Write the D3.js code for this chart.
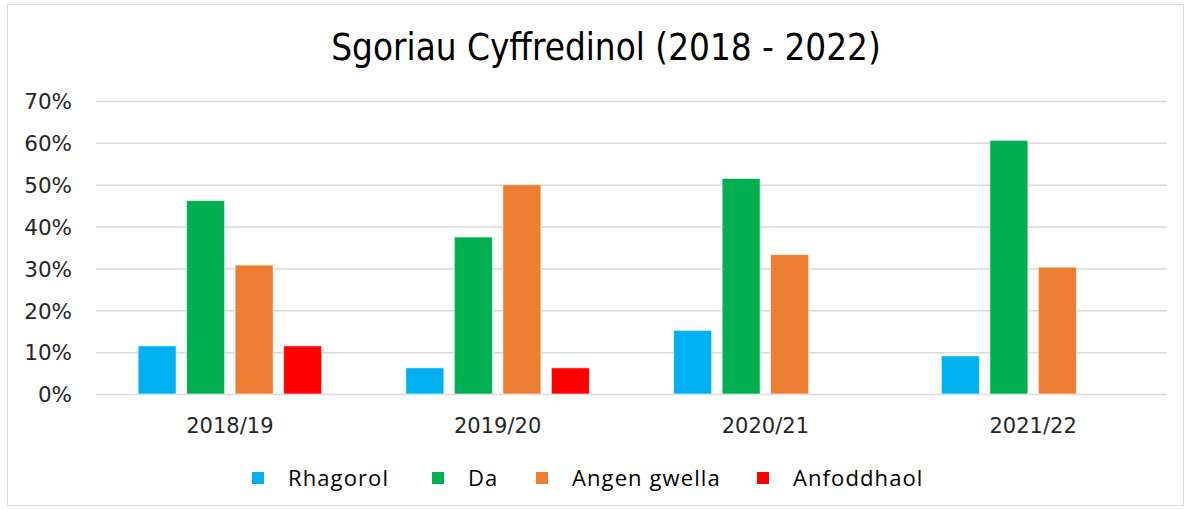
<!DOCTYPE html>
<html>
<head>
<meta charset="utf-8">
<script src="https://cdn.jsdelivr.net/npm/d3@7"></script>
<style>
  body { margin: 0; background: #fff; }
  svg { display: block; }
</style>
</head>
<body>
<svg id="chart" width="1191" height="510"></svg>
<script>
// data
var years = ["2018/19", "2019/20", "2020/21", "2021/22"];
var series = ["Rhagorol", "Da", "Angen gwella", "Anfoddhaol"];
var rhagorol = [11.5, 6.25, 15.2, 9.1];
var da = [46.2, 37.5, 51.5, 60.6];
var angenGwella = [30.8, 50, 33.3, 30.3];
var anfoddhaol = [11.5, 6.25, 0, 0];
var yTicks = [0, 10, 20, 30, 40, 50, 60, 70];

var colors = ["#00B0F0", "#00B050", "#ED7D31", "#FF0000"];
var allValues = [rhagorol, da, angenGwella, anfoddhaol];

var svg = d3.select("#chart");

var plotLeft = 96, plotRight = 1167;
var plotTop = 101, plotBottom = 394;

// outer frame
svg.append("rect")
  .attr("x", 7.5).attr("y", 4.5)
  .attr("width", 1176).attr("height", 501)
  .attr("fill", "#fff")
  .attr("stroke", "#D9D9D9")
  .attr("stroke-width", 1);

// title
svg.append("text")
  .attr("x", 606)
  .attr("y", 60)
  .attr("text-anchor", "middle")
  .style("font-family", "'DejaVu Sans Condensed', 'DejaVu Sans'")
  .style("font-stretch", "condensed")
  .style("font-size", "36.5px")
  .attr("fill", "#000")
  .text("Sgoriau Cyffredinol (2018 - 2022)");

var x0 = d3.scaleBand()
  .domain(years)
  .range([plotLeft, plotRight])
  .padding(0);

var x1 = d3.scaleBand()
  .domain(series)
  .range([0, x0.bandwidth()])
  .paddingInner(0.216)
  .paddingOuter(0.868);

var y = d3.scaleLinear()
  .domain([0, 70])
  .range([plotBottom, plotTop]);

// gridlines + y labels
var yAxis = svg.append("g")
  .attr("transform", "translate(" + plotLeft + ",0)")
  .call(d3.axisLeft(y)
    .tickValues(yTicks)
    .tickSize(-(plotRight - plotLeft))
    .tickPadding(24)
    .tickFormat(function(d){ return d + "%"; }));
yAxis.select(".domain").remove();
yAxis.selectAll(".tick line")
  .attr("stroke", "#D9D9D9")
  .attr("stroke-width", 1.5);
yAxis.selectAll(".tick text")
  .style("font-family", "DejaVu Sans")
  .style("font-size", "21.5px")
  .attr("dy", "0.36em")
  .attr("fill", "#262626");

// bars
var rows = [];
years.forEach(function(yr, i){
  series.forEach(function(s, j){
    rows.push({ year: yr, name: s, value: allValues[j][i], color: colors[j] });
  });
});

svg.append("g")
  .selectAll("rect")
  .data(rows.filter(function(d){ return d.value > 0; }))
  .enter()
  .append("rect")
  .attr("x", function(d){ return x0(d.year) + x1(d.name); })
  .attr("y", function(d){ return y(d.value); })
  .attr("width", x1.bandwidth())
  .attr("height", function(d){ return y(0) - y(d.value); })
  .attr("fill", function(d){ return d.color; })
  .attr("stroke", "#fff")
  .attr("stroke-opacity", 0.6)
  .attr("stroke-width", 1);

// x labels
var xAxis = svg.append("g")
  .attr("transform", "translate(0," + plotBottom + ")")
  .call(d3.axisBottom(x0).tickSize(0).tickPadding(24));
xAxis.select(".domain").remove();
xAxis.selectAll(".tick text")
  .style("font-family", "DejaVu Sans")
  .style("font-size", "21px")
  .attr("fill", "#262626");

// legend
var legendX = [252, 432, 536, 757];
var legend = svg.append("g");
series.forEach(function(s, j){
  var g = legend.append("g")
    .attr("transform", "translate(" + legendX[j] + ",478)");
  g.append("rect")
    .attr("x", 0).attr("y", -6)
    .attr("width", 12).attr("height", 12)
    .attr("fill", colors[j]);
  g.append("text")
    .attr("x", 36)
    .attr("y", 7.5)
    .style("font-family", "Open Sans")
    .style("font-size", "22px")
    .style("letter-spacing", "1.1px")
    .attr("fill", "#000")
    .text(s);
});
</script>
</body>
</html>
